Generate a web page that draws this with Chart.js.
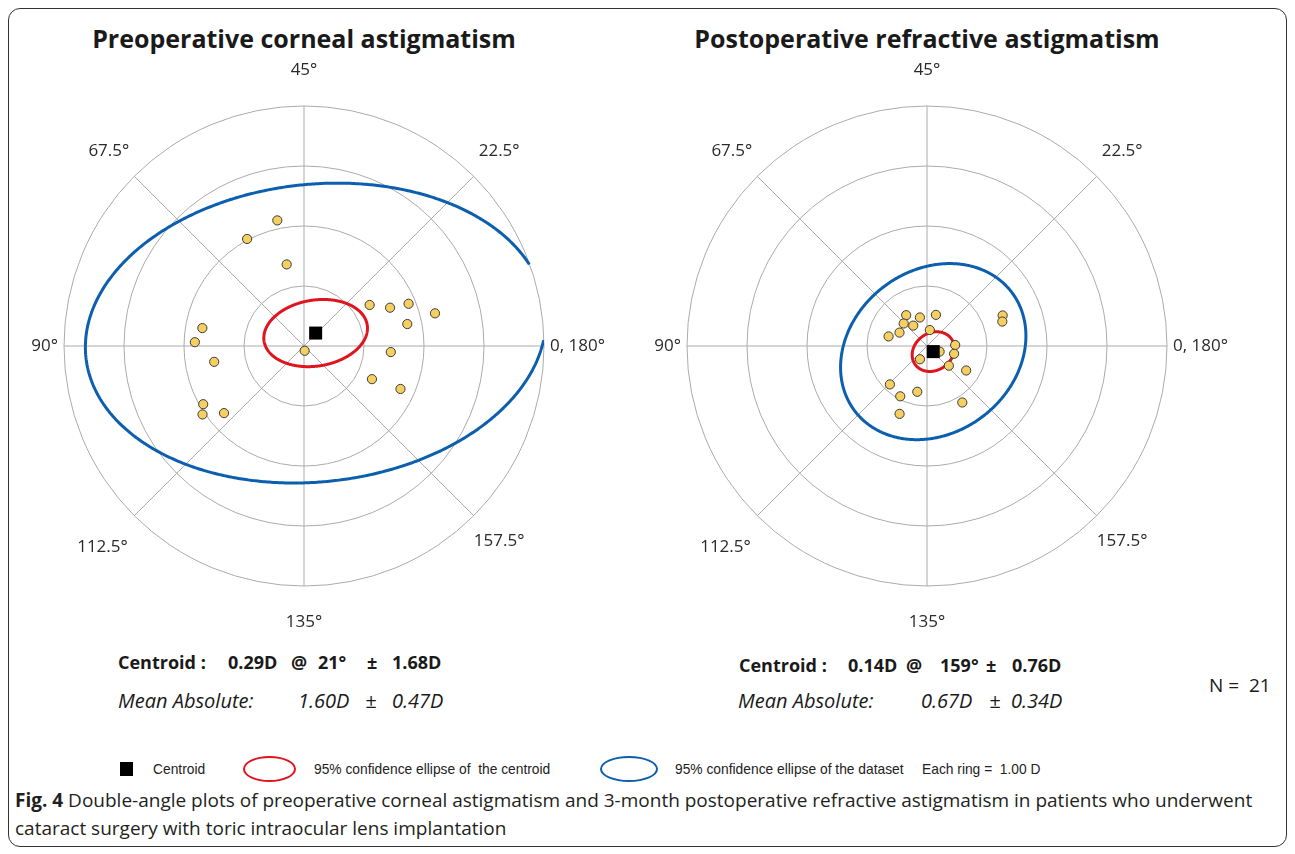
<!DOCTYPE html>
<html>
<head>
<meta charset="utf-8">
<title>Double-angle plots</title>
<script src="https://cdn.jsdelivr.net/npm/chart.js@4.4.1/dist/chart.umd.min.js"></script>
<style>
  body { margin: 0; width: 1295px; height: 854px; background: #fff; position: relative; overflow: hidden;
         font-family: 'Open Sans', sans-serif; color: #1a1a1a; }
  .frame { position: absolute; left: 8px; top: 8px; width: 1277px; height: 837px;
           border: 1.5px solid #333; border-radius: 12px; }
  canvas { position: absolute; top: 0; }
  .t { position: absolute; white-space: pre; line-height: 24px; }
  .title { font-weight: 700; font-size: 25px; text-align: center; width: 600px; top: 22px; line-height: 32px; }
  .b { font-weight: 700; font-size: 18px; }
  .i { font-style: italic; font-size: 20px; }
  .lg { font-family: 'Liberation Sans', sans-serif; font-size: 15px; top: 759px; line-height: 20px; color: #222;
        transform: scaleX(0.92); transform-origin: left center; }
  .cap { font-size: 19px; left: 15px; color: #231f20; line-height: 28px; }
</style>
</head>
<body>
<div class="frame"></div>

<div class="t title" style="left:4px">Preoperative corneal astigmatism</div>
<div class="t title" style="left:627px">Postoperative refractive astigmatism</div>

<canvas id="preChart" width="624" height="650" style="left:0px"></canvas>
<canvas id="postChart" width="624" height="650" style="left:624px"></canvas>

<!-- stats, left -->
<div class="t b" style="left:118px; top:650px">Centroid :</div>
<div class="t b" style="left:228px; top:650px">0.29D</div>
<div class="t b" style="left:291px; top:650px">@</div>
<div class="t b" style="left:318px; top:650px">21°</div>
<div class="t b" style="left:367px; top:650px">±</div>
<div class="t b" style="left:392px; top:650px">1.68D</div>
<div class="t i" style="left:118px; top:689px">Mean Absolute:</div>
<div class="t i" style="left:298px; top:689px">1.60D</div>
<div class="t i" style="left:365px; top:689px">±</div>
<div class="t i" style="left:392px; top:689px">0.47D</div>

<!-- stats, right -->
<div class="t b" style="left:739px; top:653px">Centroid :</div>
<div class="t b" style="left:848px; top:653px">0.14D</div>
<div class="t b" style="left:906px; top:653px">@</div>
<div class="t b" style="left:940px; top:653px">159°</div>
<div class="t b" style="left:986px; top:653px">±</div>
<div class="t b" style="left:1012px; top:653px">0.76D</div>
<div class="t i" style="left:738px; top:689px">Mean Absolute:</div>
<div class="t i" style="left:921px; top:689px">0.67D</div>
<div class="t i" style="left:989px; top:689px">±</div>
<div class="t i" style="left:1011px; top:689px">0.34D</div>
<div class="t" style="left:1209px; top:673px; font-size:19px">N =  21</div>

<!-- legend -->
<div style="position:absolute; left:120px; top:762px; width:13px; height:14px; background:#000"></div>
<div class="t lg" style="left:153px">Centroid</div>
<div style="position:absolute; left:243px; top:756px; width:49px; height:22px; border:2.5px solid #e0141e; border-radius:50%"></div>
<div class="t lg" style="left:314px">95% confidence ellipse of  the centroid</div>
<div style="position:absolute; left:600px; top:756px; width:54px; height:22px; border:2.5px solid #0b5fae; border-radius:50%"></div>
<div class="t lg" style="left:675px">95% confidence ellipse of the dataset</div>
<div class="t lg" style="left:922px">Each ring =  1.00 D</div>

<!-- caption -->
<div class="t cap" style="top:786px"><b>Fig. 4</b> Double-angle plots of preoperative corneal astigmatism and 3-month postoperative refractive astigmatism in patients who underwent</div>
<div class="t cap" style="top:814px">cataract surgery with toric intraocular lens implantation</div>

<script>
// rings and axis labels of the double-angle plot
const ringValues = [1, 2, 3, 4];
const axisDegrees = [0, 22.5, 45, 67.5, 90, 112.5, 135, 157.5];
const axisLabels = ['0, 180°', '22.5°', '45°', '67.5°', '90°', '112.5°', '135°', '157.5°'];

// preoperative corneal astigmatism: magnitude (D) and axis (deg)
const preMagnitude = [2.14, 2.02, 1.39, 1.29, 1.57, 1.88, 2.25, 1.76, 1.45, 1.26, 1.76, 0.08, 1.72, 1.82, 1.52, 1.94, 2.04, 1.74];
const preAxis      = [51, 59, 51, 16, 12, 11, 7, 6, 178, 167, 168, 139, 85, 89, 95, 105, 107, 110];
const preCentroid = [0.29, 24];            // magnitude, axis
const preCentroidEllipse = [0.87, 0.55, 9]; // semi-major, semi-minor (D), tilt (deg, double-angle)
const preDataEllipse = [3.85, 2.48, 6];

// postoperative refractive astigmatism
const postMagnitude = [0.62, 0.49, 0.54, 0.54, 0.41, 0.51, 0.66, 0.27, 0.47, 0.47, 0.23, 0.25, 0.49, 0.77, 1.36, 1.32, 0.89, 0.95, 0.78, 1.22, 1.11];
const postAxis      = [62, 52, 37, 68, 62, 77, 83, 40, 1, 172, 168, 121, 159, 164, 11, 9, 113, 121, 129, 124, 151];
const postCentroid = [0.14, 159];
const postCentroidEllipse = [0.37, 0.31, 35];
const postDataEllipse = [1.64, 1.36, 37];

const colors = {
    grid: '#ababab',
    label: '#2a2a2a',
    point: '#f5d061',
    pointBorder: '#3b3b3b',
    red: '#e0141e',
    blue: '#0b5fae'
};

function toXY(mag, axis) {
    const t = 2 * axis * Math.PI / 180;
    return { x: mag * Math.cos(t), y: mag * Math.sin(t) };
}

// ellipse outline around the centroid, cut where it leaves the outer ring
function ellipsePoints(center, params) {
    const [a, b, tilt] = params;
    const phi = tilt * Math.PI / 180;
    const maxR = ringValues[ringValues.length - 1];
    const pts = [];
    for (let i = 0; i <= 360; i++) {
        const s = i * Math.PI / 180;
        const ex = a * Math.cos(s), ey = b * Math.sin(s);
        const x = center.x + ex * Math.cos(phi) - ey * Math.sin(phi);
        const y = center.y + ex * Math.sin(phi) + ey * Math.cos(phi);
        pts.push(Math.hypot(x, y) > maxR ? { x: x, y: null } : { x: x, y: y });
    }
    return pts;
}

const polarGrid = {
    id: 'polarGrid',
    beforeDatasetsDraw(chart) {
        const { ctx, scales: { x, y } } = chart;
        const cx = x.getPixelForValue(0), cy = y.getPixelForValue(0);
        const maxR = ringValues[ringValues.length - 1];
        ctx.save();
        ctx.strokeStyle = colors.grid;
        ctx.lineWidth = 1;
        ringValues.forEach(r => {
            ctx.beginPath();
            ctx.arc(cx, cy, x.getPixelForValue(r) - cx, 0, Math.PI * 2);
            ctx.stroke();
        });
        axisDegrees.forEach(a => {
            const p = toXY(maxR, a);
            ctx.beginPath();
            ctx.moveTo(cx, cy);
            ctx.lineTo(x.getPixelForValue(p.x), y.getPixelForValue(p.y));
            ctx.stroke();
        });

        ctx.fillStyle = colors.label;
        ctx.font = "17px 'Open Sans', sans-serif";
        ctx.textBaseline = 'middle';
        axisDegrees.forEach((a, i) => {
            let p, align = 'center';
            if (a === 0) { p = toXY(maxR + 0.1, a); align = 'left'; }
            else if (a === 90) { p = toXY(maxR + 0.1, a); align = 'right'; }
            else if (a === 112.5) p = toXY(maxR + 0.75, a);
            else p = toXY(maxR + 0.6, a);
            ctx.textAlign = align;
            ctx.fillText(axisLabels[i], x.getPixelForValue(p.x), y.getPixelForValue(p.y));
        });
        ctx.restore();
    }
};

function createDoubleAnglePlot(id, mags, axes, centroid, cEllipse, dEllipse, padLeft) {
    const ctx = document.getElementById(id);
    const c = toXY(centroid[0], centroid[1]);
    const axisOpts = { type: 'linear', min: -4, max: 4, display: false };
    const ellipseLine = { showLine: true, pointRadius: 0, borderWidth: 3, tension: 0.001, spanGaps: false };

    return new Chart(ctx, {
        type: 'scatter',
        data: {
            datasets: [
                {
                    label: 'Centroid',
                    data: [c],
                    pointStyle: 'rect',
                    pointRadius: 9.2,
                    backgroundColor: '#000',
                    borderWidth: 0,
                    order: 0
                },
                {
                    label: 'Eyes',
                    data: mags.map((m, i) => toXY(m, axes[i])),
                    pointRadius: 4.6,
                    backgroundColor: colors.point,
                    borderColor: colors.pointBorder,
                    borderWidth: 1,
                    order: 1
                },
                Object.assign({
                    label: '95% confidence ellipse of the centroid',
                    data: ellipsePoints(c, cEllipse),
                    borderColor: colors.red,
                    order: 2
                }, ellipseLine),
                Object.assign({
                    label: '95% confidence ellipse of the dataset',
                    data: ellipsePoints(c, dEllipse),
                    borderColor: colors.blue,
                    order: 3
                }, ellipseLine)
            ]
        },
        options: {
            responsive: false,
            devicePixelRatio: 1,
            animation: false,
            events: [],
            layout: { padding: { left: padLeft, right: 624 - 480 - padLeft, top: 106, bottom: 64 } },
            scales: { x: axisOpts, y: axisOpts },
            plugins: { legend: { display: false }, tooltip: { enabled: false } }
        },
        plugins: [polarGrid]
    });
}

createDoubleAnglePlot('preChart', preMagnitude, preAxis, preCentroid, preCentroidEllipse, preDataEllipse, 64);
createDoubleAnglePlot('postChart', postMagnitude, postAxis, postCentroid, postCentroidEllipse, postDataEllipse, 63);
</script>
</body>
</html>
